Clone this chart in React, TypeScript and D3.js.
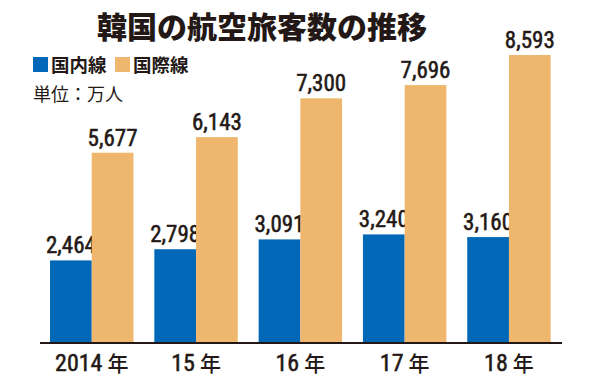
import * as d3 from 'd3';

const years = ['2014', '15', '16', '17', '18'];
const domestic = [2464, 2798, 3091, 3240, 3160];
const international = [5677, 6143, 7300, 7696, 8593];
const seriesNames = ['国内線', '国際線'];
const seriesColors = ['#0068b7', '#efb76e'];

const W = 600;
const H = 387;
const baseY = 343;
const ink = '#231815';
const numFont = '"Liberation Sans Narrow", "Roboto Condensed", "DejaVu Sans Condensed", sans-serif';
const jpFont = '"Noto Sans CJK JP", sans-serif';

const App = () => {
  const x = d3.scaleBand<string>().domain(years).range([39.6, 561.1]).paddingInner(0.2).paddingOuter(0.1);
  const sub = d3.scaleBand<number>().domain([0, 1]).range([0, x.bandwidth()]);
  const y = d3.scaleLinear().domain([0, 8593]).range([baseY, 55]);
  const fmt = d3.format(',');
  const series = [domestic, international];

  return (
    <svg width={W} height={H} style={{ display: 'block', position: 'absolute', left: 0, top: 0 }}>
      <rect width={W} height={H} fill="#fff" />
      <text x={262} y={38} textAnchor="middle" fontFamily={jpFont} fontWeight={900} fontSize={30} fill={ink}>
        韓国の航空旅客数の推移
      </text>
      {seriesNames.map((name, i) => (
        <g key={name} transform={`translate(${33 + i * 82},57)`}>
          <rect width={15} height={15} fill={seriesColors[i]} />
          <text x={18} y={15} fontFamily={jpFont} fontWeight={700} fontSize={18.5} fill={ink}>
            {name}
          </text>
        </g>
      ))}
      <text x={33} y={101} fontFamily={jpFont} fontSize={18} fill={ink}>
        単位：万人
      </text>
      {years.map((yr, i) => (
        <g key={yr} transform={`translate(${x(yr)},0)`}>
          {series.map((s, j) => (
            <g key={j}>
              <rect x={sub(j)} y={y(s[i])} width={sub.bandwidth()} height={baseY - y(s[i])} fill={seriesColors[j]} />
              <text
                x={(sub(j) ?? 0) + sub.bandwidth() / 2}
                y={y(s[i]) - 7}
                textAnchor="middle"
                fontFamily={numFont}
                fontSize={23}
                fill={ink}
                stroke={ink}
                strokeWidth={0.5}
              >
                {fmt(s[i])}
              </text>
            </g>
          ))}
          <text x={x.bandwidth() / 2} y={371} textAnchor="middle" fontSize={24} fill={ink}>
            <tspan fontFamily={numFont} stroke={ink} strokeWidth={0.5}>{yr}</tspan>
            <tspan fontFamily={jpFont} fontSize={21} fontWeight={500} dx={5}>年</tspan>
          </text>
        </g>
      ))}
      <line x1={40} x2={562} y1={baseY} y2={baseY} stroke={ink} strokeWidth={2} />
    </svg>
  );
};

export default App;
